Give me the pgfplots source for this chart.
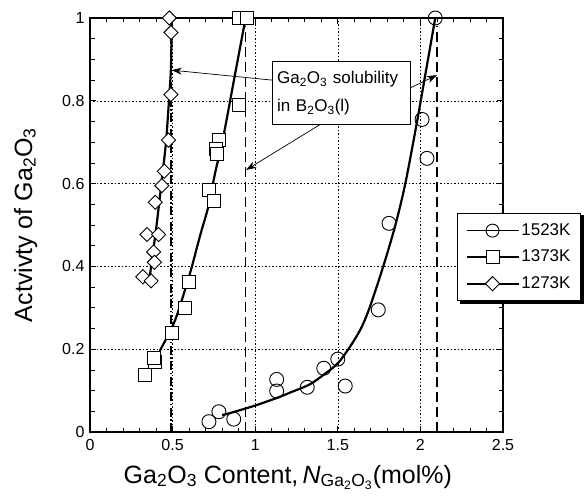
\documentclass[border=0pt]{standalone}
\usepackage{pgfplots}
\pgfplotsset{compat=1.18}
\usepackage{fontspec}
\setmainfont{Liberation Sans}
\usetikzlibrary{arrows.meta}
\newcommand{\GaO}{Ga\textsubscript{2}O\textsubscript{3}}
\newcommand{\BO}{B\textsubscript{2}O\textsubscript{3}}
\newcommand{\lgf}{\fontsize{17}{20}\selectfont}

\begin{document}
\fontsize{16}{19}\selectfont
\begin{tikzpicture}
\useasboundingbox (-90pt,-64pt) rectangle (498pt,432pt);
\begin{axis}[
  at={(0,0)}, anchor=south west,
  width=413pt, height=414pt, scale only axis,
  xmin=0, xmax=2.5, ymin=0, ymax=1,
  xtick={0,0.5,1,1.5,2,2.5},
  ytick={0,0.2,0.4,0.6,0.8,1},
  minor x tick num=4, minor y tick num=3,
  xtick pos=both, ytick pos=both,
  tick align=inside,
  major tick length=6pt, minor tick length=4.5pt,
  every tick/.style={black, line width=0.8pt},
  axis line style={line width=1.2pt},
  grid=major,
  major grid style={black, line width=0.6pt, dash pattern=on 1.5pt off 2pt},
  /pgf/number format/assume math mode=true,
  tick label style={font=\fontsize{16}{19}\selectfont},
  xticklabel style={yshift=-2pt},
  xlabel={\fontsize{25}{30}\selectfont\GaO{} Content,\,\textit{N}\textsubscript{\GaO}(mol\%)},
  ylabel={\fontsize{25}{30}\selectfont Actvivty of \GaO},
  xlabel style={at={(axis description cs:0.479,-0.1232)}, anchor=base},
  ylabel style={at={(axis description cs:-0.1404,0.5)}, anchor=base, rotate=0},
  legend style={at={(0.889,0.529)}, anchor=north west, draw=black, line width=1pt,
    fill=white, font=\lgf, row sep=8.25pt,
    inner xsep=8pt, inner ysep=8pt,
    nodes={inner sep=2pt}, name=lgd},
  legend cell align=left,
  legend image code/.code={
    \draw[mark repeat=2, mark phase=2, line width=1.7pt] plot coordinates {(0pt,0pt) (26pt,0pt) (52pt,0pt)};
  },
]
% solubility lines
\addplot[black, line width=1.3pt, dash pattern=on 9pt off 2.5pt on 1.5pt off 2.5pt, forget plot] coordinates {(0.49,0) (0.49,0.98)};
\addplot[black, line width=1.5pt, dash pattern=on 10pt off 5pt, forget plot] coordinates {(0.94,0) (0.94,0.98)};
\addplot[black, line width=1.5pt, dash pattern=on 10pt off 5pt, forget plot] coordinates {(2.10,0) (2.10,0.98)};

% fitted curves
\addplot[black, line width=2.2pt, smooth, forget plot] coordinates {
 (0.80,0.041) (0.85,0.046) (1.0,0.064) (1.15,0.085) (1.21,0.095) (1.33,0.115)
 (1.42,0.14) (1.50,0.166) (1.574,0.206) (1.64,0.25) (1.695,0.303) (1.775,0.40)
 (1.846,0.496) (1.907,0.597) (1.978,0.746) (2.038,0.882) (2.09,1.0)};
\addplot[black, line width=2.2pt, smooth, forget plot] coordinates {
 (0.40,0.178) (0.42,0.194) (0.515,0.27) (0.605,0.383) (0.646,0.444) (0.676,0.488)
 (0.716,0.544) (0.757,0.625) (0.807,0.713) (0.87,0.847) (0.934,0.983) (0.942,1.0)};
\addplot[black, line width=2.2pt, smooth, forget plot] coordinates {
 (0.36,0.37) (0.38,0.43) (0.40,0.49) (0.415,0.54) (0.435,0.61) (0.46,0.70)
 (0.478,0.80) (0.49,0.88) (0.495,1.0)};

% data points
\addplot[only marks, mark=o, mark size=7pt, mark options={fill=white, line width=0.9pt}, forget plot] coordinates {
 (0.72,0.025) (0.78,0.049) (0.87,0.031) (1.13,0.127) (1.13,0.099) (1.315,0.108)
 (1.415,0.154) (1.50,0.176) (1.545,0.111) (1.745,0.295) (1.81,0.504)
 (2.01,0.755) (2.04,0.661) (2.09,1.0)};
\addplot[only marks, mark=square*, mark size=6.5pt, mark options={fill=white, draw=black, line width=0.9pt}, forget plot] coordinates {
 (0.90,1.0) (0.95,1.0) (0.90,0.79) (0.78,0.705) (0.76,0.684) (0.77,0.671)
 (0.72,0.585) (0.75,0.558) (0.60,0.362) (0.575,0.30) (0.495,0.24)
 (0.395,0.17) (0.385,0.18) (0.33,0.138)};
\addplot[only marks, mark=square*, mark size=5pt, mark options={rotate=45, fill=white, draw=black, line width=0.9pt}, forget plot] coordinates {
 (0.48,1.0) (0.49,0.965) (0.49,0.815) (0.475,0.705) (0.45,0.63) (0.435,0.595)
 (0.395,0.555) (0.345,0.477) (0.415,0.477) (0.385,0.435) (0.39,0.41)
 (0.32,0.375) (0.37,0.365)};

% legend entries
\addlegendimage{black, mark=o, mark size=6.5pt, mark options={fill=white, line width=0.9pt}}
\addlegendentry{\lgf 1523K}
\addlegendimage{black, mark=square*, mark size=6.5pt, mark options={fill=white, draw=black, line width=0.9pt}}
\addlegendentry{\lgf 1373K}
\addlegendimage{black, mark=square*, mark size=5pt, mark options={rotate=45, fill=white, draw=black, line width=0.9pt}}
\addlegendentry{\lgf 1273K}

% annotation
\draw[line width=0.7pt, -{Stealth[length=10pt, width=7pt, inset=3pt]}] (axis cs:1.102,0.850) -- (axis cs:0.495,0.874);
\draw[line width=0.7pt, -{Stealth[length=10pt, width=7pt, inset=3pt]}] (axis cs:1.39,0.742) -- (axis cs:0.945,0.633);
\draw[line width=0.7pt, -{Stealth[length=10pt, width=7pt, inset=3pt]}] (axis cs:1.937,0.831) -- (axis cs:2.10,0.862);
\node[draw=black, line width=0.8pt, fill=white, align=left, text width=128pt, inner xsep=5pt,
  minimum height=63pt, font=\fontsize{17}{28}\selectfont] at (axis cs:1.52,0.818)
  {\fontsize{17}{28}\selectfont\GaO{} solubility\\ in \BO(l)};
\end{axis}
% legend drop shadow (right and bottom bands)
\fill[black] ([yshift=-2.5pt]lgd.north east) rectangle ([xshift=2.5pt,yshift=-2.5pt]lgd.south east);
\fill[black] ([xshift=2.5pt]lgd.south west) rectangle ([xshift=2.5pt,yshift=-2.5pt]lgd.south east);
\end{tikzpicture}
\end{document}
